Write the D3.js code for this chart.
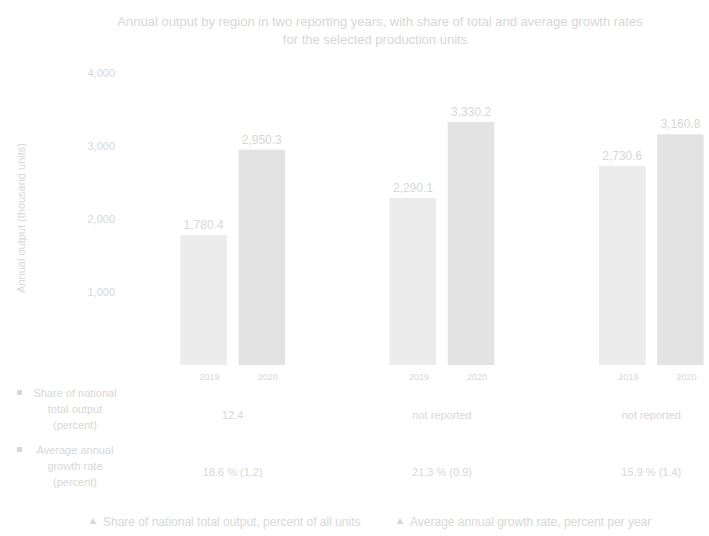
<!DOCTYPE html>
<html>
<head>
<meta charset="utf-8">
<script src="https://cdn.jsdelivr.net/npm/d3@7"></script>
<style>
  body { margin: 0; background: #fff; }
  svg { font-family: "Liberation Sans", Arial, sans-serif; }
</style>
</head>
<body>
<div id="container"></div>
<script>
// chart data
const groups = ["Region A", "Region B", "Region C"];
const series = ["2019", "2020"];
const valuesA = [1780, 2290, 2730];
const valuesB = [2950, 3330, 3160];
const valueLabelsA = ["1,780.4", "2,290.1", "2,730.6"];
const valueLabelsB = ["2,950.3", "3,330.2", "3,160.8"];
const yTicks = [1000, 2000, 3000, 4000];
const tableRow1 = ["12.4", "not reported", "not reported"];
const tableRow2 = ["18.6 % (1.2)", "21.3 % (0.9)", "15.9 % (1.4)"];

const width = 709, height = 536;
const textCol = "#d8d8d8";
const barCols = ["#ececec", "#e3e3e3"];

let svg = d3.select("#container")
  .append("svg")
  .attr("width", width)
  .attr("height", height);

// title
svg.append("text")
  .attr("x", 380).attr("y", 26)
  .attr("text-anchor", "middle")
  .attr("font-size", "13px")
  .attr("fill", textCol)
  .text("Annual output by region in two reporting years, with share of total and average growth rates");
svg.append("text")
  .attr("x", 375).attr("y", 44)
  .attr("text-anchor", "middle")
  .attr("font-size", "13px")
  .attr("fill", textCol)
  .text("for the selected production units");

// scales
let x0 = d3.scaleBand()
  .domain(groups)
  .range([128, 756])
  .paddingInner(0.5)
  .paddingOuter(0.25);

let x1 = d3.scaleBand()
  .domain(series)
  .range([0, x0.bandwidth()])
  .paddingInner(0.2);

let y = d3.scaleLinear()
  .domain([0, 4000])
  .range([365, 73]);

// y axis, labels only
let yAxis = svg.append("g")
  .attr("transform", "translate(119,0)")
  .call(d3.axisLeft(y).tickValues(yTicks).tickSize(0).tickPadding(4));
yAxis.select(".domain").remove();
yAxis.selectAll("text")
  .attr("fill", textCol)
  .attr("font-size", "11px");

svg.append("text")
  .attr("transform", "translate(25,218) rotate(-90)")
  .attr("text-anchor", "middle")
  .attr("font-size", "11px")
  .attr("fill", textCol)
  .text("Annual output (thousand units)");

// bars
let rows = groups.map(function(g, i) {
  return [
    {group: g, s: series[0], v: valuesA[i], label: valueLabelsA[i]},
    {group: g, s: series[1], v: valuesB[i], label: valueLabelsB[i]}
  ];
});

let gGroups = svg.append("g")
  .selectAll("g")
  .data(rows)
  .enter().append("g")
    .attr("transform", function(d) { return "translate(" + x0(d[0].group) + ",0)"; });

gGroups.selectAll("rect")
  .data(function(d) { return d; })
  .enter().append("rect")
    .attr("x", function(d) { return x1(d.s); })
    .attr("y", function(d) { return y(d.v); })
    .attr("width", x1.bandwidth())
    .attr("height", function(d) { return y(0) - y(d.v); })
    .attr("fill", function(d, i) { return barCols[i]; });

gGroups.selectAll("text.val")
  .data(function(d) { return d; })
  .enter().append("text")
    .attr("class", "val")
    .attr("x", function(d) { return x1(d.s) + x1.bandwidth() / 2; })
    .attr("y", function(d) { return y(d.v) - 6; })
    .attr("text-anchor", "middle")
    .attr("font-size", "12px")
    .attr("fill", textCol)
    .text(function(d) { return d.label; });

gGroups.selectAll("text.cat")
  .data(function(d) { return d; })
  .enter().append("text")
    .attr("class", "cat")
    .attr("x", function(d) { return x1(d.s) + x1.bandwidth() / 2 + 6; })
    .attr("y", 380)
    .attr("text-anchor", "middle")
    .attr("font-size", "9px")
    .attr("fill", textCol)
    .text(function(d) { return d.s; });

// table rows under the chart
let rowLabels = [
  ["Share of national", "total output", "(percent)"],
  ["Average annual", "growth rate", "(percent)"]
];
let rowY = [415, 472];
let tableData = [tableRow1, tableRow2];

rowLabels.forEach(function(lines, r) {
  svg.append("rect")
    .attr("x", 17).attr("y", rowY[r] - 25)
    .attr("width", 5).attr("height", 5)
    .attr("fill", textCol);
  lines.forEach(function(line, k) {
    svg.append("text")
      .attr("x", 75).attr("y", rowY[r] - 18 + k * 16)
      .attr("text-anchor", "middle")
      .attr("font-size", "11px")
      .attr("fill", textCol)
      .text(line);
  });
  svg.append("g")
    .selectAll("text")
    .data(tableData[r])
    .enter().append("text")
      .attr("x", function(d, i) { return x0(groups[i]) + x0.bandwidth() / 2; })
      .attr("y", rowY[r] + 4)
      .attr("text-anchor", "middle")
      .attr("font-size", "11px")
      .attr("fill", textCol)
      .text(function(d) { return d; });
});

// legend
let legendItems = ["Share of national total output, percent of all units", "Average annual growth rate, percent per year"];
let legendX = [93, 400];
legendItems.forEach(function(t, i) {
  svg.append("path")
    .attr("d", d3.symbol().type(d3.symbolTriangle).size(22))
    .attr("transform", "translate(" + legendX[i] + ",522)")
    .attr("fill", textCol);
  svg.append("text")
    .attr("x", legendX[i] + 10).attr("y", 526)
    .attr("font-size", "12px")
    .attr("fill", textCol)
    .text(t);
});
</script>
</body>
</html>
